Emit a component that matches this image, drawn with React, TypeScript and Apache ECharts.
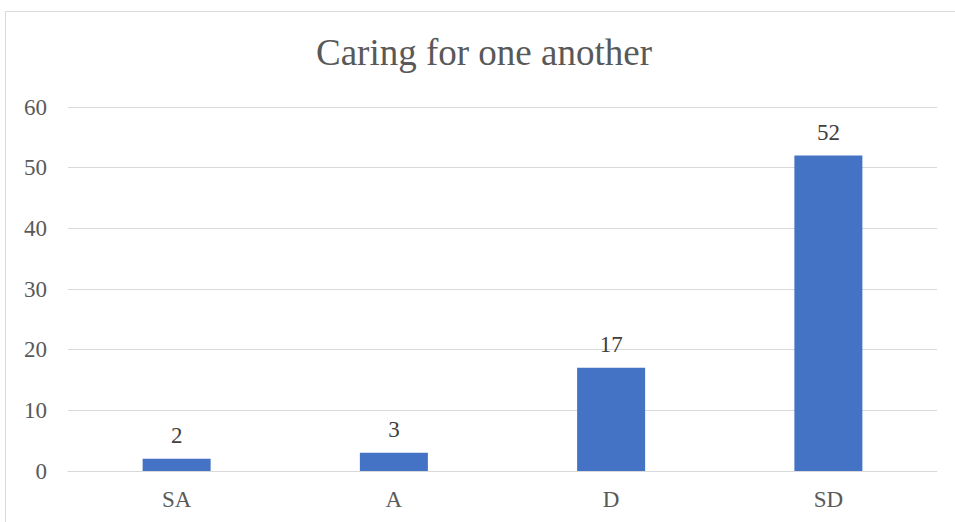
import React, { useEffect, useRef } from "react";
import * as echarts from "echarts";

const titleText = "Caring for one another";
const categories = ["SA", "A", "D", "SD"];
const values = [2, 3, 17, 52];
const yMin = 0;
const yMax = 60;
const yInterval = 10;

export default function App() {
  const ref = useRef<HTMLDivElement>(null);
  useEffect(() => {
    if (!ref.current) return;
    const chart = echarts.init(ref.current, undefined, { renderer: "svg" });
    const font = "'Liberation Serif', 'Times New Roman', serif";
    chart.setOption({
      animation: false,
      backgroundColor: "#ffffff",
      title: {
        text: titleText,
        left: 479,
        textAlign: "center",
        top: 29,
        textStyle: { fontFamily: font, fontSize: 37, fontWeight: "normal", color: "#595959" },
      },
      graphic: [
        {
          type: "rect",
          shape: { x: 5.5, y: 11.5, width: 1000, height: 1000 },
          style: { fill: "none", stroke: "#d9d9d9", lineWidth: 1 },
          silent: true,
        },
      ],
      grid: { left: 68, right: 18, top: 107, bottom: 51 },
      xAxis: {
        type: "category",
        data: categories,
        axisLine: { show: true, lineStyle: { color: "#d9d9d9", width: 1 } },
        axisTick: { show: false },
        axisLabel: { fontFamily: font, fontSize: 23, color: "#595959", margin: 17 },
      },
      yAxis: {
        type: "value",
        min: yMin,
        max: yMax,
        interval: yInterval,
        axisLine: { show: false },
        axisTick: { show: false },
        splitLine: { lineStyle: { color: "#d9d9d9", width: 1 } },
        axisLabel: { fontFamily: font, fontSize: 23, color: "#595959", margin: 21 },
      },
      series: [
        {
          type: "bar",
          data: values,
          barWidth: 68,
          itemStyle: { color: "#4472C4" },
          label: {
            show: true,
            position: "top",
            distance: 12,
            fontFamily: font,
            fontSize: 23,
            color: "#404040",
          },
        },
      ],
    });
    return () => chart.dispose();
  }, []);
  return (
    <div
      ref={ref}
      style={{ position: "fixed", left: 0, top: 0, width: 955, height: 522 }}
    />
  );
}
